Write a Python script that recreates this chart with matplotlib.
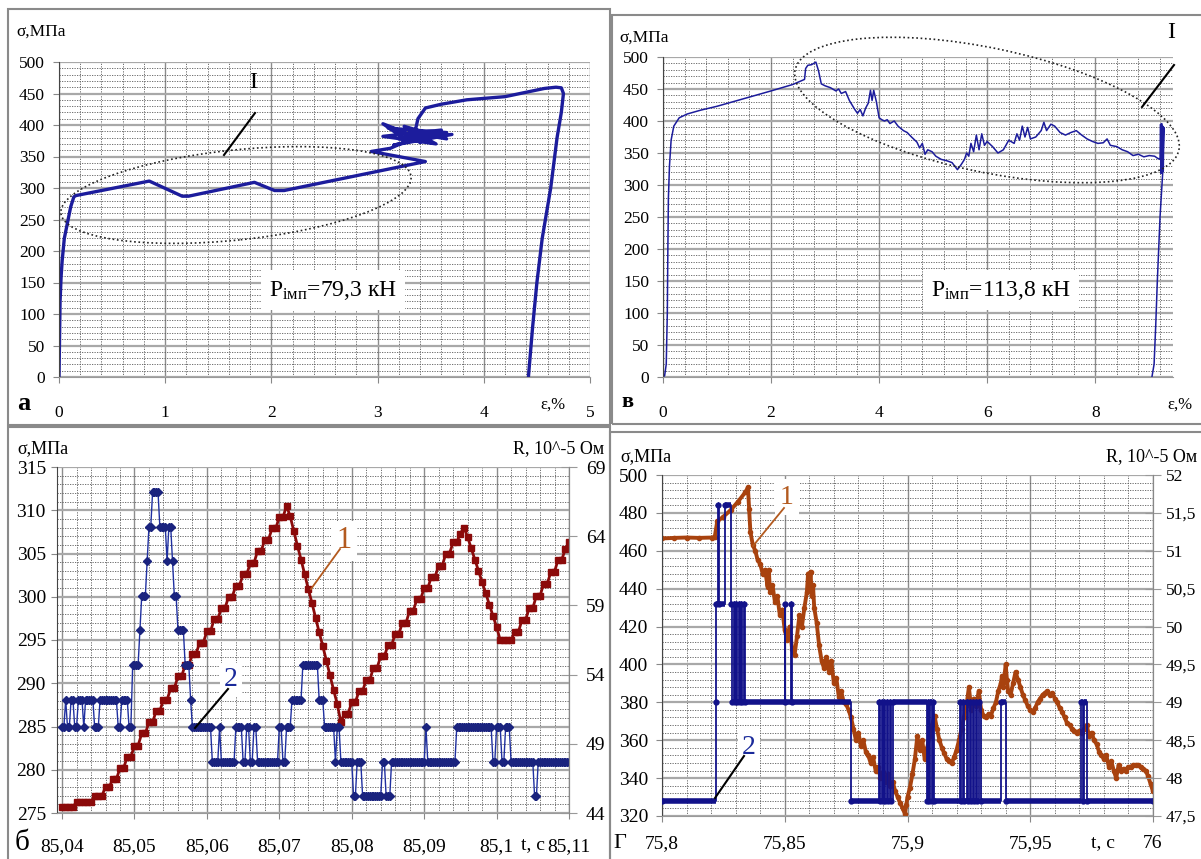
import numpy as np
import matplotlib
matplotlib.use("Agg")
import matplotlib.pyplot as plt
from matplotlib.ticker import MultipleLocator
from matplotlib.patches import Ellipse, Rectangle
from matplotlib.lines import Line2D

plt.rcParams['font.family'] = ['Liberation Serif', 'DejaVu Serif']
plt.rcParams['mathtext.fontset'] = 'custom'
plt.rcParams['mathtext.rm'] = 'Liberation Serif'
plt.rcParams['mathtext.it'] = 'Liberation Serif:italic'

# ---------------- data ----------------
# panel а : stress-strain, P=79.3 kN
eps_a = [0, 0.005, 0.01, 0.02, 0.03, 0.05, 0.08, 0.11, 0.14, 0.16, 0.85, 1.16, 1.22, 1.84, 2.03, 2.12,
         3.45, 2.94, 3.12, 3.28, 3.05, 3.5, 3.1, 3.65, 3.15, 3.7, 3.2, 3.6, 3.05, 3.55, 3.25, 3.65, 3.3,
         3.4, 3.36, 3.38, 3.45, 3.6, 3.84, 4.2, 4.57, 4.68, 4.73, 4.75, 4.73, 4.69, 4.63, 4.55, 4.5, 4.46,
         4.43, 4.42]
sig_a = [0, 60, 120, 160, 185, 220, 245, 270, 286, 288, 311, 287, 287, 309, 296, 296,
         342, 358, 363, 375, 402, 372, 395, 388, 368, 385, 378, 392, 382, 370, 398, 378, 388,
         372, 395, 410, 427, 433, 440, 445, 458, 460, 459, 450, 420, 380, 300, 220, 150, 80,
         20, 0]

# panel в : stress-strain, P=113.8 kN
eps_b = [0, 0.03, 0.06, 0.08, 0.09, 0.1, 0.12, 0.15, 0.2, 0.3, 0.45, 0.7, 1.0, 1.5, 2.0, 2.4, 2.62,
         2.64, 2.68, 2.75, 2.83, 2.88, 2.93, 3.0, 3.1, 3.2, 3.25, 3.3, 3.38, 3.45, 3.5, 3.55, 3.6,
         3.65, 3.7, 3.75, 3.8, 3.84, 3.87, 3.9, 3.95, 4.0, 4.05, 4.1, 4.15, 4.2, 4.28, 4.35, 4.45,
         4.52, 4.6, 4.7, 4.75, 4.8, 4.85, 4.9, 4.98, 5.05, 5.15, 5.25, 5.35, 5.45, 5.52, 5.58, 5.62,
         5.66, 5.7, 5.75, 5.8, 5.85, 5.9, 5.95, 6.0, 6.1, 6.2, 6.3, 6.4, 6.5, 6.55, 6.6, 6.65, 6.7,
         6.75, 6.8, 6.9, 7.0, 7.05, 7.1, 7.18, 7.25, 7.35, 7.45, 7.55, 7.65, 7.75, 7.85, 7.95, 8.05,
         8.15, 8.22, 8.28, 8.4, 8.5, 8.6, 8.7, 8.8, 8.9, 9.0, 9.1, 9.15, 9.2, 9.21, 9.22, 9.23, 9.24,
         9.25, 9.26, 9.27, 9.25, 9.2, 9.15, 9.12, 9.09, 9.05]
sig_b = [0, 2, 20, 100, 200, 280, 330, 370, 392, 405, 411, 417, 423, 435, 447, 457, 465,
         482, 487, 488, 492, 478, 458, 455, 452, 447, 450, 443, 446, 432, 425, 418, 412,
         418, 408, 420, 428, 448, 432, 448, 430, 405, 402, 400, 402, 396, 400, 392, 385,
         382, 375, 367, 358, 365, 348, 355, 352, 345, 340, 338, 335, 324, 332, 340, 350,
         345, 365, 352, 378, 355, 380, 362, 368, 360, 350, 355, 370, 365, 380, 370, 392, 375,
         390, 372, 375, 385, 398, 385, 395, 392, 382, 378, 382, 385, 378, 372, 368, 365,
         366, 372, 362, 360, 355, 352, 346, 348, 344, 346, 345, 342, 340, 395, 318, 396, 320,
         392, 322, 390, 320, 250, 150, 80, 20, 0]

# panel б : sigma (1) and R (2) vs time, sampling step
b_t0 = 85.04
b_dt_red = 0.0005
red_sigma = [275.7, 275.7, 275.7, 275.7,
             276.3, 276.3, 276.3, 276.3, 276.3,
             277.0, 277.0, 277.0,
             278.0, 278.0,
             278.9, 278.9, 280.2, 280.2, 281.5, 281.5, 282.8, 282.8, 284.2, 284.2, 285.5, 285.5,
             286.8, 286.8, 288.1, 288.1, 289.4, 289.4, 290.8, 290.8, 292.1, 292.1, 293.4, 293.4,
             294.7, 294.7, 296.0, 296.0, 297.4, 297.4, 298.7, 298.7, 300.0, 300.0, 301.3, 301.3,
             302.6, 302.6, 303.9, 303.9, 305.3, 305.3, 306.6, 306.6, 307.9, 307.9, 309.2, 309.2,
             310.5,
             309.3, 307.6, 305.9, 304.3, 302.6, 300.9, 299.3, 297.6, 295.9, 294.3, 292.6, 290.9,
             289.2, 287.6, 285.5,
             286.5, 286.5, 287.8, 287.8, 289.1, 289.1, 290.4, 290.4, 291.8, 291.8, 293.1, 293.1,
             294.4, 294.4, 295.7, 295.7, 297.0, 297.0, 298.4, 298.4, 299.7, 299.7, 301.0, 301.0,
             302.3, 302.3, 303.6, 303.6, 305.0, 305.0, 306.3, 306.3,
             307.3, 308.0,
             306.9, 305.6, 304.3, 303.0, 301.7, 300.4, 299.1, 297.8, 296.5, 295.0,
             295.0, 295.0, 295.0,
             295.9, 295.9, 297.3, 297.3, 298.7, 298.7, 300.1, 300.1, 301.5, 301.5, 302.9, 302.9,
             304.3, 304.3, 305.5, 306.3]
b_dt_blue = 0.00025
blue_R_levels = [50.2, 52.2, 50.2, 52.2, 50.2, 52.2, 50.2, 52.2, 50.2, 52.2, 50.2, 52.2, 50.2,
                 54.7, 57.2, 59.7, 62.2, 64.7, 67.2, 64.7, 62.2, 64.7, 62.2, 59.7, 57.2, 54.7, 52.2,
                 50.2, 47.7, 50.2, 47.7, 50.2, 47.7, 50.2, 47.7, 50.2, 47.7, 50.2, 47.7, 50.2,
                 52.2, 54.7, 52.2, 50.2, 47.7, 50.2, 47.7, 45.2, 47.7, 45.2, 47.7, 45.2,
                 47.7, 50.2, 47.7, 50.2, 47.7, 50.2, 47.7, 50.2, 47.7, 45.2, 47.7]
blue_R_counts = [2, 1, 2, 2, 2, 3, 1, 5, 3, 10, 2, 4, 2,
                 4, 1, 3, 1, 2, 4, 4, 1, 2, 1, 2, 4, 3, 1,
                 11, 4, 1, 8, 4, 2, 2, 2, 2, 12, 2, 2, 3,
                 6, 9, 3, 6, 1, 2, 7, 2, 3, 11, 2, 3,
                 19, 1, 16, 20, 2, 3, 2, 3, 13, 2, 18]
b_ticks = [85.04, 85.05, 85.06, 85.07, 85.08, 85.09, 85.10, 85.11]
b_ticklabels = ["85,04", "85,05", "85,06", "85,07", "85,08", "85,09", "85,1", "85,11"]
b_R_ticks = [44, 49, 54, 59, 64, 69]

# panel г : sigma (1) and R (2) vs time
g_t = [75.800, 75.805, 75.810, 75.815, 75.8205, 75.8215, 75.8225, 75.825, 75.828, 75.831, 75.834, 75.835,
       75.8355, 75.836, 75.837, 75.838, 75.839, 75.840, 75.841, 75.842, 75.843, 75.8435, 75.844, 75.845,
       75.846, 75.847, 75.848, 75.849, 75.850, 75.851, 75.852, 75.853, 75.854, 75.855, 75.856, 75.857,
       75.858, 75.859, 75.8595, 75.860, 75.8605, 75.861, 75.8615, 75.862, 75.863, 75.864, 75.865, 75.866,
       75.867, 75.868, 75.869, 75.870, 75.871, 75.872, 75.873, 75.874, 75.875, 75.876, 75.877, 75.878,
       75.879, 75.880, 75.881, 75.882, 75.883, 75.884, 75.885, 75.886, 75.887, 75.888, 75.889, 75.890,
       75.891, 75.892, 75.893, 75.894, 75.895, 75.896, 75.897, 75.898, 75.899, 75.8995, 75.900, 75.901,
       75.902, 75.903, 75.904, 75.905, 75.906, 75.907, 75.908, 75.909, 75.910, 75.911, 75.912, 75.913,
       75.914, 75.915, 75.916, 75.917, 75.918, 75.919, 75.920, 75.921, 75.922, 75.923, 75.924, 75.925,
       75.926, 75.927, 75.928, 75.929, 75.930, 75.931, 75.932, 75.933, 75.934, 75.935, 75.936, 75.937,
       75.938, 75.9385, 75.939, 75.940, 75.9405, 75.941, 75.942, 75.943, 75.944, 75.945, 75.946, 75.947,
       75.948, 75.949, 75.950, 75.951, 75.952, 75.953, 75.954, 75.955, 75.956, 75.957, 75.958, 75.959,
       75.960, 75.961, 75.962, 75.963, 75.964, 75.965, 75.966, 75.967, 75.968, 75.969, 75.970, 75.971,
       75.972, 75.973, 75.974, 75.975, 75.976, 75.977, 75.978, 75.979, 75.980, 75.981, 75.982, 75.983,
       75.984, 75.985, 75.986, 75.987, 75.988, 75.989, 75.990, 75.991, 75.992, 75.993, 75.994, 75.995,
       75.996, 75.997, 75.998, 75.999, 76.000]
g_sigma = [466.5, 466.8, 467.0, 466.8, 467.0, 467.5, 475.5, 478.0, 481.5, 486.0, 491.0, 493.5,
           482.0, 470.0, 463.0, 460.0, 455.0, 453.0, 448.0, 450.0, 441.0, 450.0, 438.0, 442.0,
           433.0, 436.0, 426.0, 429.0, 418.0, 413.0, 420.0, 408.0, 405.0, 415.0, 426.0, 420.0,
           430.0, 438.0, 448.0, 440.0, 449.0, 436.0, 442.0, 430.0, 422.0, 410.0, 402.0, 398.0,
           404.0, 396.0, 402.0, 390.0, 393.0, 383.0, 386.0, 380.0, 379.0, 376.0, 372.0, 366.0,
           360.0, 364.0, 357.0, 360.0, 354.0, 352.0, 348.0, 351.0, 344.0, 346.0, 340.0, 343.0,
           338.0, 342.0, 336.0, 338.0, 333.0, 330.0, 327.0, 324.0, 321.0, 326.0, 330.0, 335.0,
           342.0, 350.0, 362.0, 355.0, 360.0, 350.0, 356.0, 362.0, 368.0, 373.0, 366.0, 360.0,
           356.0, 353.0, 350.0, 349.0, 348.0, 351.0, 355.0, 360.0, 366.0, 372.0, 378.0, 388.0,
           376.0, 382.0, 378.0, 386.0, 376.0, 373.0, 372.0, 374.0, 373.0, 377.0, 380.0, 386.0,
           390.0, 394.0, 388.0, 400.0, 392.0, 386.0, 384.0, 390.0, 396.0, 392.0, 388.0, 384.0,
           381.0, 378.0, 376.0, 375.0, 377.0, 380.0, 382.0, 384.0, 385.0, 386.0, 384.0, 385.0,
           382.0, 380.0, 377.0, 375.0, 372.0, 369.0, 368.0, 366.0, 365.0, 364.0, 365.0, 364.0,
           366.0, 368.0, 362.0, 364.0, 360.0, 358.0, 354.0, 352.0, 350.0, 352.0, 346.0, 349.0,
           344.0, 340.0, 347.0, 344.0, 345.0, 344.0, 346.0, 346.0, 347.0, 347.0, 347.0, 346.0,
           345.0, 344.0, 341.0, 337.0, 333.0]
g_R_t = [75.8000, 75.8218, 75.8220, 75.8228, 75.8232, 75.8258, 75.8283, 75.8287, 75.8292, 75.8296,
         75.8303, 75.8307, 75.8313, 75.8317, 75.8322, 75.8326, 75.8333, 75.8337, 75.8499, 75.8503,
         75.8525, 75.8530, 75.8771, 75.8884, 75.8889, 75.8896, 75.8900, 75.8904, 75.8908, 75.8915,
         75.8919, 75.8927, 75.8931, 75.8941, 75.9078, 75.9082, 75.9088, 75.9092, 75.9101, 75.9104,
         75.9109, 75.9212, 75.9216, 75.9225, 75.9229, 75.9243, 75.9247, 75.9256, 75.9260, 75.9268,
         75.9272, 75.9279, 75.9283, 75.9290, 75.9299, 75.9380, 75.9403, 75.9705, 75.9713, 75.9720,
         75.9733, 76.0000]
g_R = [47.70, 49.00, 50.30, 51.60, 50.30, 51.60, 50.30, 49.00, 50.30, 49.00,
       50.30, 49.00, 50.30, 49.00, 50.30, 49.00, 50.30, 49.00, 50.30, 49.00,
       50.30, 49.00, 47.70, 49.00, 47.70, 49.00, 47.70, 49.00, 47.70, 49.00,
       47.70, 49.00, 47.70, 49.00, 47.70, 49.00, 47.70, 49.00, 47.70, 49.00,
       47.70, 49.00, 47.70, 49.00, 47.70, 49.00, 47.70, 49.00, 47.70, 49.00,
       47.70, 49.00, 47.70, 49.00, 47.70, 49.00, 47.70, 49.00, 47.70, 49.00,
       47.70, 47.70]
g_ticks = [75.80, 75.85, 75.90, 75.95, 76.00]
g_ticklabels = ["75,8", "75,85", "75,9", "75,95", "76"]
g_R_ticks = [47.5, 48, 48.5, 49, 49.5, 50, 50.5, 51, 51.5, 52]
g_R_ticklabels = ["47,5", "48", "48,5", "49", "49,5", "50", "50,5", "51", "51,5", "52"]

# ---------------- figure ----------------
W, H = 1201, 859
fig = plt.figure(figsize=(W / 100, H / 100), dpi=100)
fig.patch.set_facecolor('white')


def rect(l, t, r, b):
    return [l / W, 1 - b / H, (r - l) / W, (b - t) / H]


def fx(x):
    return x / W


def fy(y):
    return 1 - y / H


def style(ax, xmaj, xmin, ymaj, ymin, fs, right=False):
    ax.xaxis.set_major_locator(MultipleLocator(xmaj))
    ax.xaxis.set_minor_locator(MultipleLocator(xmin))
    ax.yaxis.set_major_locator(MultipleLocator(ymaj))
    ax.yaxis.set_minor_locator(MultipleLocator(ymin))
    ax.grid(which='minor', color='#5a5a5a', ls=(0, (1.5, 1.5)), lw=0.6)
    ax.grid(which='major', axis='y', color='#a8a8a8', lw=1.6)
    ax.grid(which='major', axis='x', color='#8c8c8c', lw=1.0)
    ax.set_axisbelow(True)
    ax.tick_params(which='minor', length=0)
    ax.tick_params(which='major', length=4, color='#888888', labelsize=fs)
    ax.spines['top'].set_visible(False)
    ax.spines['right'].set_visible(right)
    ax.spines['left'].set_color('#444444')
    ax.spines['bottom'].set_color('#9a9a9a')
    ax.spines['right'].set_color('#888888')


# ---- panel а ----
ax_a = fig.add_axes(rect(59, 62, 590, 377))
ax_a.plot(eps_a, sig_a, color='#1c1c9c', lw=2.4, solid_joinstyle='round')
ax_a.set_xlim(0, 5)
ax_a.set_ylim(0, 500)
style(ax_a, 1, 0.2, 50, 10, 12.5)
ax_a.tick_params(axis='x', pad=16)
ax_a.tick_params(axis='y', pad=6)

# ---- panel в ----
ax_b = fig.add_axes(rect(663, 57, 1173, 377))
ax_b.plot(eps_b, sig_b, color='#1c1c9c', lw=1.1)
ax_b.set_xlim(0, 9.44)
ax_b.set_ylim(0, 500)
style(ax_b, 2, 0.4, 50, 10, 12.5)
ax_b.tick_params(axis='x', pad=16)
ax_b.tick_params(axis='y', pad=6)

# ---- panel б ----
ax_c = fig.add_axes(rect(57, 467, 569, 813))
t_red = b_t0 + b_dt_red * np.arange(len(red_sigma))
ax_c.plot(t_red, red_sigma, color='#8b0a0a', lw=2, marker='s', ms=5, mec='#8b0a0a')
ax_c.set_xlim(85.0393, 85.11)
ax_c.set_ylim(275, 315)
style(ax_c, 0.01, 0.002, 5, 1, 14, right=True)
ax_c.set_xticks(b_ticks, b_ticklabels)
ax_c.tick_params(axis='x', pad=14)
ax_c.tick_params(axis='y', pad=4)
ax_c2 = ax_c.twinx()
blue_R = np.repeat(blue_R_levels, blue_R_counts)
t_blue = b_t0 + b_dt_blue * np.arange(len(blue_R))
ax_c2.plot(t_blue, blue_R, color='#2030a0', lw=1.0, marker='D', ms=4.2, mec='#1a237e', mfc='#1a237e')
ax_c2.set_ylim(44, 69)
ax_c2.set_yticks(b_R_ticks)
ax_c2.tick_params(axis='y', direction='inout', length=12, color='#999999', labelsize=14, pad=6)
for s in ['top', 'left', 'bottom']:
    ax_c2.spines[s].set_visible(False)
ax_c2.spines['right'].set_color('#888888')

# ---- panel г ----
ax_d = fig.add_axes(rect(662, 475, 1153, 816))
ax_d.plot(g_t, g_sigma, color='#a8420e', lw=2.8, marker='o', ms=3, solid_joinstyle='round')
ax_d.set_xlim(75.8, 76.0)
ax_d.set_ylim(320, 500)
style(ax_d, 0.05, 0.01, 20, 4, 14, right=True)
ax_d.set_xticks(g_ticks, g_ticklabels)
ax_d.tick_params(axis='x', pad=10)
ax_d.tick_params(axis='y', pad=6)
ax_d2 = ax_d.twinx()
ax_d2.step(g_R_t, g_R, where='post', color='#12128a', lw=1.3)
ax_d2.hlines(g_R[:-1], g_R_t[:-1], g_R_t[1:], color='#12128a', lw=4)
ax_d2.plot(g_R_t, g_R, ls='none', marker='o', ms=3.5, color='#12128a')
ax_d2.set_ylim(47.5, 52)
ax_d2.set_yticks(g_R_ticks, g_R_ticklabels)
ax_d2.tick_params(axis='y', direction='inout', length=12, color='#999999', labelsize=12.5, pad=3)
for s in ['top', 'left', 'bottom']:
    ax_d2.spines[s].set_visible(False)
ax_d2.spines['right'].set_color('#888888')

# ---------------- texts ----------------
def T(x, y, s, **kw):
    kw.setdefault('ha', 'left')
    kw.setdefault('va', 'center')
    fig.text(fx(x), fy(y), s, zorder=6, **kw)


T(16, 32, 'σ,МПа', fontsize=12.5)
T(17, 404, 'а', fontsize=19, fontweight='bold')
T(553, 405, 'ε,%', fontsize=12, ha='center')
T(253, 82, 'I', fontsize=17, ha='center')
T(333, 290, r'P$_{\mathrm{імп}}$=79,3 кН', fontsize=17, ha='center',
  bbox=dict(facecolor='white', edgecolor='none', pad=6))

T(619, 38, 'σ,МПа', fontsize=12.5)
T(621, 402, 'в', fontsize=16, fontweight='bold')
T(1180, 405, 'ε,%', fontsize=12, ha='center')
T(1171, 33, 'I', fontsize=17, ha='center')
T(1001, 290, r'P$_{\mathrm{імп}}$=113,8 кН', fontsize=17, ha='center',
  bbox=dict(facecolor='white', edgecolor='none', pad=6))

T(17, 449, 'σ,МПа', fontsize=13)
T(604, 449, 'R, 10^-5 Ом', fontsize=13, ha='right')
T(15, 843, 'б', fontsize=21)
T(533, 845, 't, c', fontsize=14, ha='center')
T(344, 541, '1', fontsize=22, ha='center', color='#b35a1f',
  bbox=dict(facecolor='white', edgecolor='none', pad=4))
T(231, 680, '2', fontsize=20, ha='center', color='#1a2a9a',
  bbox=dict(facecolor='white', edgecolor='none', pad=3))

T(620, 457, 'σ,МПа', fontsize=13)
T(1197, 457, 'R, 10^-5 Ом', fontsize=13, ha='right')
T(613, 843, 'Г', fontsize=16)
T(1103, 843, 't, c', fontsize=14, ha='center')
T(787, 497, '1', fontsize=20, ha='center', color='#b35a1f',
  bbox=dict(facecolor='white', edgecolor='none', pad=4))
T(749, 747, '2', fontsize=20, ha='center', color='#1a2a9a',
  bbox=dict(facecolor='white', edgecolor='none', pad=3))

# leader lines
def L(x1, y1, x2, y2, color='black', lw=1.5):
    fig.add_artist(Line2D([fx(x1), fx(x2)], [fy(y1), fy(y2)], color=color, lw=lw, zorder=7))


L(255, 113, 224, 155)
L(1174, 65, 1142, 107)
L(340, 549, 311, 589, color='#b35a1f', lw=1.3)
L(228, 689, 195, 728)
L(784, 508, 753, 546, color='#b35a1f', lw=1.3)
L(744, 756, 715, 798)

# dotted ellipses (pixel -> inches)
fig.add_artist(Ellipse((236 / 100, (H - 195) / 100), 3.52, 0.9, angle=6,
                       transform=fig.dpi_scale_trans, fill=False, ls=(0, (1, 1.6)),
                       lw=1.2, color='#222222', zorder=5))
fig.add_artist(Ellipse((987 / 100, (H - 110) / 100), 3.92, 1.24, angle=-11.8,
                       transform=fig.dpi_scale_trans, fill=False, ls=(0, (1, 1.6)),
                       lw=1.2, color='#222222', zorder=5))

# panel frames
def F(l, t, r, b):
    fig.add_artist(Rectangle((fx(l), fy(b)), (r - l) / W, (b - t) / H, transform=fig.transFigure,
                             fill=False, edgecolor='#8a8a8a', lw=1.5, zorder=1))


F(8, 9, 610, 425)
F(612, 15, 1205, 424)
F(8, 427, 610, 862)
F(610, 432, 1205, 862)

fig.savefig('out.png', dpi=100, facecolor='white')
